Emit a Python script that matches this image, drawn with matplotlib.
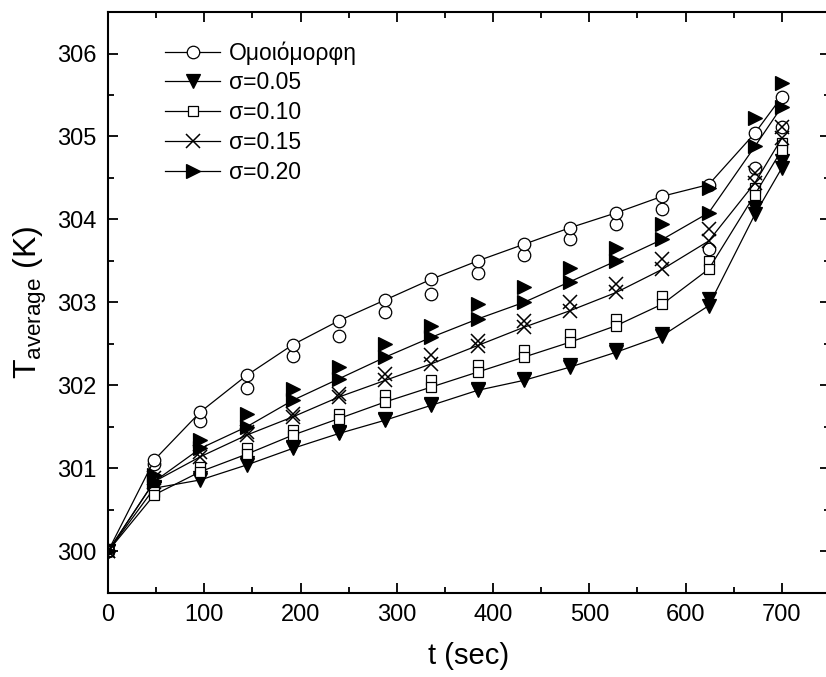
import matplotlib
matplotlib.use("Agg")
import matplotlib.pyplot as plt
from matplotlib.ticker import MultipleLocator

plt.rcParams['font.family'] = ['Liberation Sans', 'DejaVu Sans']

# time steps (sec)
t = [0, 48, 96, 144, 192, 240, 288, 336, 384, 432, 480, 528, 576, 624, 672, 700]

# each series: values on the line, and the second marker set at the same times
uniform_line = [300.0, 301.10, 301.68, 302.12, 302.49, 302.78, 303.03, 303.28, 303.50,
                303.70, 303.90, 304.08, 304.28, 304.42, 305.04, 305.48]
uniform_2 = [300.0, 301.05, 301.57, 301.97, 302.35, 302.60, 302.88, 303.10, 303.35,
             303.57, 303.76, 303.94, 304.12, 303.64, 304.62, 305.12]

s005_line = [300.0, 300.76, 300.86, 301.04, 301.24, 301.42, 301.58, 301.76, 301.94,
             302.06, 302.22, 302.40, 302.60, 302.96, 304.06, 304.62]
s005_2 = [300.0, 300.78, 300.88, 301.06, 301.26, 301.44, 301.60, 301.78, 301.96,
          302.08, 302.24, 302.42, 302.62, 303.04, 304.14, 304.70]

s010_line = [300.0, 300.68, 300.96, 301.17, 301.40, 301.60, 301.80, 301.98, 302.16,
             302.34, 302.52, 302.72, 302.98, 303.40, 304.30, 304.84]
s010_2 = [300.0, 300.72, 301.02, 301.24, 301.46, 301.66, 301.88, 302.06, 302.24,
          302.42, 302.62, 302.80, 303.08, 303.50, 304.38, 304.92]

s015_line = [300.0, 300.84, 301.14, 301.40, 301.62, 301.86, 302.06, 302.26, 302.48,
             302.70, 302.90, 303.12, 303.40, 303.74, 304.44, 304.98]
s015_2 = [300.0, 300.88, 301.20, 301.44, 301.66, 301.90, 302.14, 302.36, 302.54,
          302.78, 303.00, 303.22, 303.52, 303.88, 304.56, 305.12]

s020_line = [300.0, 300.84, 301.24, 301.50, 301.82, 302.08, 302.34, 302.58, 302.80,
             303.00, 303.25, 303.50, 303.76, 304.08, 304.88, 305.36]
s020_2 = [300.0, 300.92, 301.34, 301.66, 301.96, 302.22, 302.50, 302.72, 302.98,
          303.18, 303.41, 303.66, 303.94, 304.38, 305.22, 305.65]

labels = ['Ομοιόμορφη', 'σ=0.05', 'σ=0.10', 'σ=0.15', 'σ=0.20']

fig = plt.figure(figsize=(8.26, 6.77), dpi=100)
ax = fig.add_axes([0.1308, 0.1245, 0.874, 0.8577])

# marker styles per series
styles = [
    dict(marker='o', ms=9, mfc='white', mec='black', mew=0.9),
    dict(marker='v', ms=10, mfc='black', mec='black', mew=0.9),
    dict(marker='s', ms=7, mfc='white', mec='black', mew=0.9),
    dict(marker='x', ms=10, mec='black', mew=1.1),
    dict(marker='>', ms=10.5, mfc='black', mec='black', mew=0.9),
]
series = [(uniform_line, uniform_2), (s005_line, s005_2), (s010_line, s010_2),
          (s015_line, s015_2), (s020_line, s020_2)]

for (line_vals, second_vals), st, lab in zip(series, styles, labels):
    ax.plot(t, second_vals, ls='none', **st)
    ax.plot(t, line_vals, color='black', lw=0.9, label=lab, **st)

ax.set_xlim(0, 750)
ax.set_ylim(299.5, 306.5)
ax.xaxis.set_major_locator(MultipleLocator(100))
ax.xaxis.set_minor_locator(MultipleLocator(50))
ax.yaxis.set_major_locator(MultipleLocator(1))
ax.yaxis.set_minor_locator(MultipleLocator(0.5))
ax.tick_params(which='both', direction='in', top=True, right=True, width=1.3)
ax.tick_params(which='major', length=7, labelsize=17, pad=8)
ax.tick_params(which='minor', length=4)
for sp in ax.spines.values():
    sp.set_linewidth(1.5)

ax.set_xlabel('t (sec)', fontsize=21, labelpad=12)
ax.set_ylabel(r'T$_{\mathregular{average}}$ (K)', fontsize=23, labelpad=6)

ax.legend(loc='upper left', bbox_to_anchor=(0.079, 0.95), frameon=False,
          fontsize=16.5, borderpad=0, borderaxespad=0, handlelength=2.4,
          handletextpad=0.4, labelspacing=0.3, numpoints=1)

fig.savefig('out.png', dpi=100)
